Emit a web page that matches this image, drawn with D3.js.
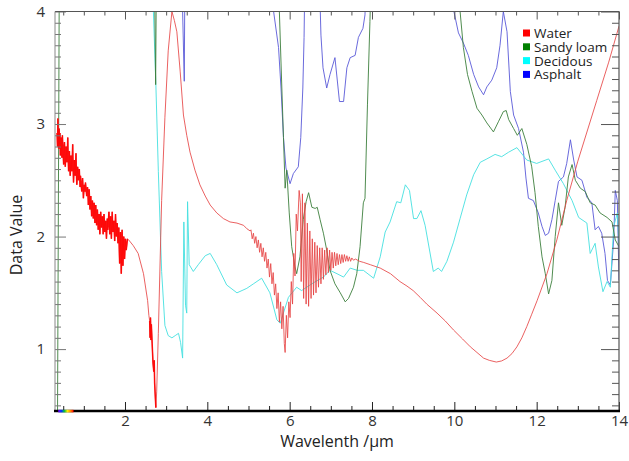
<!DOCTYPE html>
<html>
<head>
<meta charset="utf-8">
<script src="https://cdn.jsdelivr.net/npm/d3@7"></script>
<style>
  body { margin: 0; background: #fff; }
  svg { font-family: "Open Sans", "Noto Sans", sans-serif; }
</style>
</head>
<body>
<div id="chart"></div>
<script>
// spectra, [wavelength µm, value]
var water = [
  [0.35,2.92],[0.36,2.80],[0.37,3.05],[0.38,2.86],[0.39,2.78],[0.40,2.96],[0.41,2.82],[0.42,2.92],
  [0.43,2.72],[0.45,2.88],[0.46,2.76],[0.47,2.70],[0.48,2.90],[0.49,2.80],[0.51,2.64],[0.52,2.78],
  [0.53,2.84],[0.55,2.62],[0.56,2.70],[0.57,2.80],[0.59,2.66],[0.60,2.74],[0.61,2.88],[0.62,2.70],
  [0.63,2.58],[0.65,2.76],[0.66,2.62],[0.67,2.54],[0.69,2.72],[0.70,2.64],[0.71,2.58],[0.73,2.82],
  [0.74,2.62],[0.75,2.48],[0.77,2.68],[0.78,2.60],[0.79,2.54],[0.81,2.74],[0.82,2.56],[0.83,2.46],
  [0.85,2.62],[0.86,2.56],[0.87,2.50],[0.89,2.60],[0.91,2.44],[0.92,2.54],[0.93,2.48],[0.95,2.40],
  [0.97,2.52],[0.98,2.44],[0.99,2.34],[1.01,2.46],[1.03,2.40],[1.04,2.48],[1.05,2.44],[1.07,2.36],
  [1.09,2.44],[1.10,2.38],[1.11,2.28],[1.13,2.42],[1.15,2.24],[1.16,2.32],[1.17,2.36],[1.19,2.18],
  [1.21,2.32],[1.22,2.24],[1.23,2.16],[1.25,2.30],[1.27,2.12],[1.28,2.22],[1.29,2.28],[1.31,2.10],
  [1.33,2.24],[1.34,2.16],[1.35,2.06],[1.37,2.20],[1.39,2.02],[1.40,2.12],[1.41,2.22],[1.43,2.08],
  [1.45,2.18],[1.46,2.10],[1.47,2.02],[1.49,2.20],[1.51,2.04],[1.52,2.10],[1.53,2.14],[1.55,1.98],
  [1.57,2.16],[1.58,2.06],[1.59,2.10],[1.61,2.22],[1.63,2.02],[1.64,2.12],[1.65,2.18],[1.67,1.98],
  [1.69,2.22],[1.70,2.10],[1.71,2.04],[1.73,2.14],[1.75,1.96],[1.76,2.08],[1.77,2.20],[1.79,2.00],
  [1.81,2.12],[1.82,2.04],[1.83,1.94],[1.85,2.08],[1.86,1.90],[1.87,1.76],[1.89,2.04],[1.90,1.86],
  [1.91,1.67],[1.93,2.06],[1.94,1.90],[1.95,1.74],[1.97,2.00],[1.99,1.80],[2.01,1.98],[2.03,1.88],
  [2.06,1.98],
  [2.09,1.97],[2.2,1.92],[2.32,1.85],[2.45,1.67],[2.55,1.43],[2.58,1.30],[2.60,1.25],[2.61,1.10],
  [2.62,1.28],[2.63,1.08],[2.64,1.22],[2.66,1.05],[2.68,0.88],[2.70,0.80],[2.71,0.90],[2.72,0.70],
  [2.74,0.55],[2.75,0.48],[2.77,0.62],[2.81,1.14],[2.89,2.32],[2.97,3.06],[3.05,3.65],[3.14,4.0],
  [3.2,3.92],[3.26,3.82],[3.34,3.47],[3.42,3.08],[3.5,2.9],[3.58,2.75],[3.7,2.59],[3.82,2.46],
  [3.95,2.36],[4.07,2.28],[4.23,2.21],[4.39,2.16],[4.55,2.13],[4.72,2.12],[4.88,2.10],[4.96,2.07],
  [5.04,2.05],[5.06,2.06],[5.09,1.98],[5.12,2.03],[5.15,1.94],[5.18,2.00],[5.21,1.90],[5.24,1.97],
  [5.27,1.86],[5.30,1.94],[5.33,1.82],[5.36,1.90],[5.39,1.78],[5.42,1.86],[5.45,1.72],[5.48,1.80],
  [5.51,1.64],[5.54,1.76],[5.57,1.58],[5.60,1.68],[5.63,1.48],[5.66,1.58],[5.69,1.36],[5.72,1.50],
  [5.75,1.24],[5.78,1.42],[5.81,1.18],[5.84,1.38],[5.87,1.05],[5.89,0.97],[5.92,1.30],[5.95,1.10],
  [5.98,1.42],[6.01,1.28],[6.04,1.60],[6.07,1.40],[6.10,1.85],[6.13,1.65],[6.16,2.20],[6.19,2.05],
  [6.23,2.41],[6.26,2.30],[6.28,1.60],[6.31,2.38],[6.34,1.45],[6.37,2.30],[6.40,1.40],[6.43,2.12],
  [6.46,1.38],[6.49,2.05],[6.52,1.45],[6.55,1.98],[6.58,1.48],[6.61,1.95],[6.64,1.50],[6.67,1.92],
  [6.70,1.55],[6.73,1.90],[6.76,1.58],[6.79,1.90],[6.82,1.62],[6.85,1.88],[6.88,1.66],[6.91,1.90],
  [6.94,1.68],[6.97,1.88],[7.00,1.70],[7.03,1.86],[7.06,1.72],[7.09,1.86],[7.12,1.74],[7.15,1.85],
  [7.18,1.75],[7.21,1.84],[7.24,1.76],[7.27,1.84],[7.30,1.77],[7.33,1.84],[7.36,1.78],[7.39,1.83],
  [7.42,1.78],[7.45,1.82],[7.48,1.78],[7.51,1.81],[7.55,1.79],[7.6,1.80],[7.7,1.78],[7.8,1.77],
  [7.96,1.75],[8.2,1.72],[8.45,1.67],[8.68,1.60],[8.85,1.56],[9.0,1.52],[9.17,1.46],[9.33,1.40],
  [9.58,1.32],[9.78,1.25],[9.98,1.17],[10.2,1.09],[10.39,1.02],[10.55,0.97],[10.71,0.92],[10.85,0.90],
  [11.02,0.885],[11.15,0.895],[11.28,0.92],[11.4,0.96],[11.52,1.02],[11.64,1.10],[11.76,1.20],[11.88,1.31],
  [12.01,1.43],[12.25,1.67],[12.49,1.97],[12.73,2.32],[13.0,2.67],[13.46,3.21],[13.75,3.55],[14.0,3.87]
];

var sandyLoam = [
  [0.36,0.3],[0.41,4.8],[2.70,4.8],[2.745,3.35],[2.77,4.8],[5.72,4.6],[5.75,4.0],[5.81,3.32],
  [5.85,2.88],[5.89,2.43],[5.93,2.59],[5.99,2.21],[6.05,1.91],[6.13,1.73],[6.17,1.67],[6.25,1.82],
  [6.33,2.15],[6.40,2.31],[6.46,2.39],[6.54,2.26],[6.62,2.25],[6.67,2.26],[6.74,2.15],[6.82,2.03],
  [6.90,1.88],[6.98,1.70],[7.10,1.58],[7.23,1.50],[7.35,1.42],[7.43,1.45],[7.55,1.55],[7.63,1.67],
  [7.71,1.91],[7.79,2.30],[7.83,2.34],[7.89,3.17],[7.95,3.91],[8.0,4.6],[10.05,4.6],[10.14,4.0],
  [10.22,3.68],[10.32,3.44],[10.43,3.29],[10.55,3.14],[10.67,3.08],[10.79,3.01],[10.95,2.93],[11.07,3.02],
  [11.19,3.11],[11.26,3.12],[11.32,3.04],[11.44,2.96],[11.53,2.90],[11.64,2.96],[11.76,2.82],[11.88,2.62],
  [11.96,2.39],[12.04,2.09],[12.13,1.82],[12.21,1.67],[12.29,1.49],[12.37,1.61],[12.45,2.0],[12.53,2.30],
  [12.61,2.10],[12.69,2.26],[12.77,2.53],[12.86,2.64],[12.94,2.50],[13.06,2.43],[13.18,2.40],[13.30,2.30],
  [13.42,2.28],[13.54,2.21],[13.71,2.17],[13.83,2.13],[13.91,1.97],[14.0,1.91]
];

var decidous = [
  [2.66,4.6],[2.69,4.0],[2.75,3.35],[2.81,2.58],[2.89,1.69],[2.97,1.21],[3.05,1.12],[3.14,1.10],
  [3.22,1.12],[3.30,1.14],[3.35,1.06],[3.40,0.92],[3.43,2.13],[3.47,1.39],[3.50,1.32],[3.52,2.31],
  [3.56,1.75],[3.66,1.69],[3.78,1.75],[3.95,1.83],[4.07,1.85],[4.23,1.75],[4.47,1.57],[4.72,1.50],
  [4.96,1.54],[5.12,1.58],[5.32,1.63],[5.52,1.50],[5.69,1.26],[5.77,1.23],[5.97,1.46],[6.17,1.55],
  [6.29,1.52],[6.58,1.59],[6.82,1.64],[6.98,1.70],[7.15,1.67],[7.31,1.64],[7.47,1.72],[7.64,1.70],
  [7.79,1.70],[8.04,1.63],[8.2,1.82],[8.32,2.04],[8.44,2.13],[8.6,2.31],[8.70,2.30],[8.81,2.46],
  [8.91,2.41],[9.01,2.16],[9.09,2.16],[9.19,2.23],[9.29,2.10],[9.49,1.69],[9.61,1.72],[9.69,1.69],
  [9.82,1.78],[9.98,1.95],[10.14,2.16],[10.3,2.37],[10.47,2.55],[10.63,2.66],[10.79,2.69],[10.99,2.73],
  [11.15,2.71],[11.32,2.75],[11.52,2.79],[11.76,2.68],[12.0,2.65],[12.29,2.69],[12.45,2.59],[12.65,2.47],
  [12.86,2.32],[13.02,2.17],[13.22,2.12],[13.30,1.85],[13.42,1.94],[13.50,1.73],[13.61,1.51],[13.71,1.60],
  [13.79,1.55],[13.87,2.09],[13.96,2.21],[14.0,1.94]
];

var asphalt = [
  [3.37,4.6],[3.40,4.0],[3.44,3.38],[3.46,4.6],[5.58,4.6],[5.61,4.0],[5.73,3.68],[5.79,3.32],
  [5.85,2.88],[5.91,2.61],[6.01,2.47],[6.09,2.56],[6.21,2.62],[6.27,2.88],[6.32,3.32],[6.35,3.77],
  [6.38,4.6],[6.70,4.6],[6.76,3.79],[6.81,3.50],[6.90,3.32],[6.98,3.44],[7.10,3.59],[7.21,3.20],
  [7.31,3.20],[7.39,3.50],[7.47,3.59],[7.59,3.61],[7.67,3.77],[7.78,3.85],[7.83,3.97],[7.88,4.6],
  [9.95,4.6],[9.99,4.0],[10.10,3.81],[10.22,3.72],[10.34,3.61],[10.47,3.44],[10.59,3.33],[10.71,3.26],
  [10.79,3.33],[10.91,3.39],[11.03,3.50],[11.11,3.70],[11.19,4.0],[11.28,3.82],[11.36,3.29],[11.44,3.08],
  [11.56,2.96],[11.68,2.75],[11.74,2.52],[11.80,2.34],[11.92,2.32],[12.04,2.21],[12.13,2.09],[12.21,2.01],
  [12.29,2.03],[12.37,2.15],[12.45,2.32],[12.53,2.49],[12.65,2.53],[12.73,2.65],[12.82,2.86],[12.90,2.68],
  [12.98,2.53],[13.10,2.50],[13.22,2.35],[13.34,2.30],[13.42,2.06],[13.50,2.09],[13.58,2.03],[13.66,1.85],
  [13.72,1.61],[13.79,1.57],[13.87,1.97],[13.91,2.41],[13.96,2.32],[14.0,1.61]
];

var seriesNames = ["Water", "Sandy loam", "Decidous", "Asphalt"];
var lineColors = ["#e64545", "#3d803d", "#45e0e0", "#5a5ad8"];
var legendColors = ["#ff0000", "#008000", "#00ffff", "#0000ff"];

var xMajor = [2, 4, 6, 8, 10, 12, 14];
var xMinor = [0.5, 1, 1.5, 2.5, 3, 3.5, 4.5, 5, 5.5, 6.5, 7, 7.5, 8.5, 9, 9.5, 10.5, 11, 11.5, 12.5, 13, 13.5];
var yMajor = [1, 2, 3, 4];
var yMinor = [0.5, 0.6, 0.7, 0.8, 0.9, 1.1, 1.2, 1.3, 1.4, 1.5, 1.6, 1.7, 1.8, 1.9,
              2.1, 2.2, 2.3, 2.4, 2.5, 2.6, 2.7, 2.8, 2.9, 3.1, 3.2, 3.3, 3.4, 3.5, 3.6, 3.7, 3.8, 3.9];

var w = 629, h = 461;
var pLeft = 55, pRight = 619, pTop = 11.5, pBottom = 411;

var svg = d3.select("#chart").append("svg")
    .attr("width", w)
    .attr("height", h);

var x = d3.scaleLinear().domain([0.3, 14]).range([pLeft, pRight]);
var y = d3.scaleLinear().domain([0.45, 4]).range([pBottom, pTop]);

svg.append("clipPath").attr("id", "plotclip")
  .append("rect")
    .attr("x", pLeft).attr("y", pTop)
    .attr("width", pRight - pLeft).attr("height", pBottom - pTop);

// lines
var line = d3.line().x(function(d) { return x(d[0]); }).y(function(d) { return y(d[1]); });
var allSeries = [water, sandyLoam, decidous, asphalt];
var plot = svg.append("g").attr("clip-path", "url(#plotclip)");
// draw water last so the red noise sits on top
[3, 2, 1, 0].forEach(function(i) {
  plot.append("path")
    .datum(allSeries[i])
    .attr("d", line)
    .attr("fill", "none")
    .attr("stroke", lineColors[i])
    .attr("stroke-width", 1)
    .attr("stroke-opacity", i == 0 ? 0.85 : 0.9);
});
// the noisy parts of the water curve look heavier in the original
[[0.3, 2.07], [2.59, 2.76]].forEach(function(r) {
  plot.append("path")
    .datum(water.filter(function(d) { return d[0] >= r[0] && d[0] <= r[1]; }))
    .attr("d", line)
    .attr("fill", "none")
    .attr("stroke", "#ff0000")
    .attr("stroke-width", 1.5)
    .attr("stroke-opacity", 0.9);
});

function styleAxis(g, col) {
  g.selectAll("line").attr("stroke", col);
  g.select(".domain").remove();
  g.selectAll("text")
    .attr("fill", "#333")
    .style("font-size", "15px")
    .style("font-family", "'Open Sans', 'Noto Sans', sans-serif");
}

// bottom axis
svg.append("g").attr("transform", "translate(0," + pBottom + ")")
  .call(d3.axisBottom(x).tickValues(xMinor).tickSize(-5).tickFormat(""))
  .call(styleAxis, "#222");
svg.append("g").attr("transform", "translate(0," + pBottom + ")")
  .call(d3.axisBottom(x).tickValues(xMajor).tickSize(-9).tickPadding(4).tickFormat(d3.format("d")))
  .call(styleAxis, "#222");

// top axis
svg.append("g").attr("transform", "translate(0," + pTop + ")")
  .call(d3.axisTop(x).tickValues(xMinor).tickSize(-4).tickFormat(""))
  .call(styleAxis, "#555");
svg.append("g").attr("transform", "translate(0," + pTop + ")")
  .call(d3.axisTop(x).tickValues(xMajor).tickSize(-8).tickFormat(""))
  .call(styleAxis, "#555");

// left axis
svg.append("g").attr("transform", "translate(" + pLeft + ",0)")
  .call(d3.axisLeft(y).tickValues(yMinor).tickSize(-6).tickFormat(""))
  .call(styleAxis, "#777");
svg.append("g").attr("transform", "translate(" + pLeft + ",0)")
  .call(d3.axisLeft(y).tickValues(yMajor).tickSize(-11).tickPadding(10).tickFormat(d3.format("d")))
  .call(styleAxis, "#777");

// right axis
svg.append("g").attr("transform", "translate(" + pRight + ",0)")
  .call(d3.axisRight(y).tickValues(yMinor).tickSize(-7).tickFormat(""))
  .call(styleAxis, "#555");
svg.append("g").attr("transform", "translate(" + pRight + ",0)")
  .call(d3.axisRight(y).tickValues(yMajor).tickSize(-18).tickFormat(""))
  .call(styleAxis, "#555");

// frame
svg.append("line").attr("x1", pLeft).attr("x2", pRight).attr("y1", pTop).attr("y2", pTop)
  .attr("stroke", "#555").attr("stroke-width", 1);
svg.append("line").attr("x1", pLeft).attr("x2", pLeft).attr("y1", pTop).attr("y2", pBottom)
  .attr("stroke", "#888").attr("stroke-width", 1);
svg.append("line").attr("x1", pRight).attr("x2", pRight).attr("y1", pTop).attr("y2", pBottom)
  .attr("stroke", "#555").attr("stroke-width", 1.2);
svg.append("line").attr("x1", pLeft - 1).attr("x2", pRight + 1).attr("y1", pBottom).attr("y2", pBottom)
  .attr("stroke", "#000").attr("stroke-width", 2.5);

// visible spectrum strip
var grad = svg.append("defs").append("linearGradient").attr("id", "vis");
["#7a00ff", "#0030ff", "#00c040", "#ffee00", "#ff8800", "#ff0000"].forEach(function(c, i, a) {
  grad.append("stop").attr("offset", (i / (a.length - 1) * 100) + "%").attr("stop-color", c);
});
svg.append("rect")
  .attr("x", x(0.38)).attr("y", pBottom - 1.2)
  .attr("width", x(0.75) - x(0.38)).attr("height", 2.6)
  .attr("fill", "url(#vis)");

// axis titles
svg.append("text")
  .attr("x", (pLeft + pRight) / 2).attr("y", 447)
  .attr("text-anchor", "middle")
  .style("font-size", "16px")
  .attr("fill", "#222")
  .text("Wavelenth /µm");
svg.append("text")
  .attr("transform", "translate(22," + 235 + ") rotate(-90)")
  .attr("text-anchor", "middle")
  .style("font-size", "16px")
  .attr("fill", "#222")
  .text("Data Value");

// legend
var legend = svg.append("g").attr("transform", "translate(523,28)");
seriesNames.forEach(function(name, i) {
  var row = legend.append("g").attr("transform", "translate(0," + (i * 13.8) + ")");
  row.append("rect").attr("x", 0).attr("y", 1.5).attr("width", 7).attr("height", 7)
    .attr("fill", legendColors[i]);
  row.append("text").attr("x", 11).attr("y", 10)
    .style("font-size", "13.5px")
    .attr("fill", "#222")
    .text(name);
});
</script>
</body>
</html>
